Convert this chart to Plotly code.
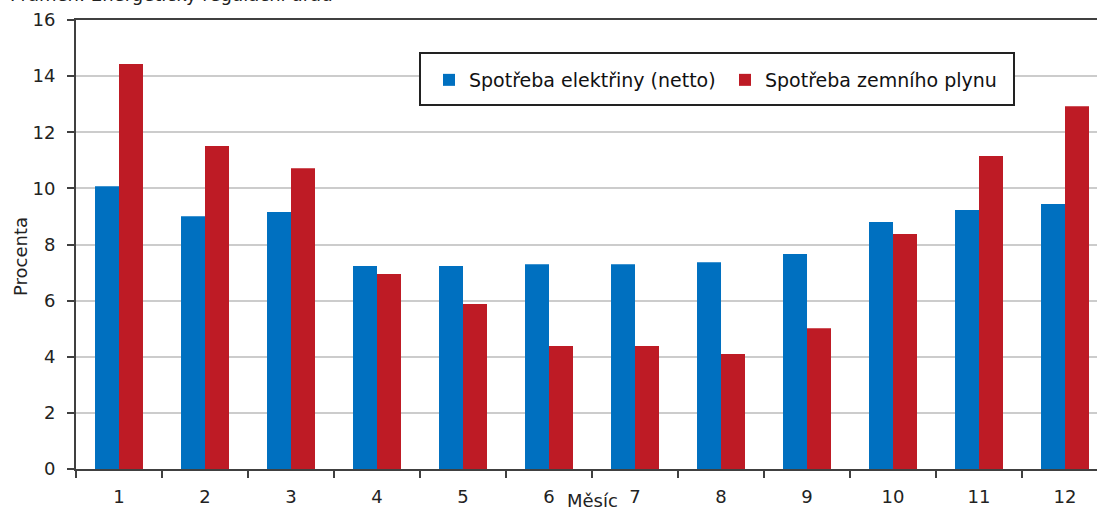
import plotly.graph_objects as go

months = ["1", "2", "3", "4", "5", "6", "7", "8", "9", "10", "11", "12"]
electricity = [10.08, 9.01, 9.16, 7.23, 7.23, 7.30, 7.30, 7.37, 7.66, 8.80, 9.23, 9.44]
gas = [14.43, 11.51, 10.72, 6.95, 5.88, 4.38, 4.38, 4.10, 5.02, 8.37, 11.15, 12.93]
y_ticks = [0, 2, 4, 6, 8, 10, 12, 14, 16]

FONT = "DejaVu Sans"
FS = 18
TXT = "#222222"
FIG_W, FIG_H = 1097, 507
L, T, W, H = 76, 20, 1021, 449


def px_x(x):
    return (x - L) / W


def px_y(y):
    return 1 - (y - T) / H


fig = go.Figure()
fig.add_trace(go.Bar(x=months, y=electricity, name="Spotřeba elektřiny (netto)",
                     marker=dict(color="#0070C0", line=dict(width=0))))
fig.add_trace(go.Bar(x=months, y=gas, name="Spotřeba zemního plynu",
                     marker=dict(color="#BE1B25", line=dict(width=0))))

fig.update_layout(
    width=FIG_W, height=FIG_H,
    margin=dict(l=L, r=FIG_W - L - W, t=T, b=FIG_H - T - H),
    paper_bgcolor="white", plot_bgcolor="white",
    barmode="group", bargap=0.442, bargroupgap=0,
    font=dict(family=FONT, size=FS, color=TXT),
    legend=dict(orientation="h", x=px_x(429), y=px_y(80), xanchor="left", yanchor="middle",
                bgcolor="rgba(0,0,0,0)", borderwidth=0,
                entrywidth=251, entrywidthmode="pixels",
                font=dict(family=FONT, size=19, color="#111111"),
                traceorder="normal"),
    showlegend=True,
)
fig.update_xaxes(type="category", range=[-0.5, 11.372], tickson="boundaries",
                 ticks="outside", ticklen=7, tickwidth=2, tickcolor="#404040",
                 showline=True, linecolor="#404040", linewidth=2, mirror=True,
                 showgrid=False, automargin=False, ticklabelstandoff=10,
                 tickfont=dict(family=FONT, size=FS, color=TXT))
fig.update_yaxes(range=[0, 16], tickvals=y_ticks, ticks="outside", ticklen=7, tickwidth=2,
                 tickcolor="#404040", showline=True, linecolor="#404040", linewidth=2,
                 showgrid=True, gridcolor="#cccccc", gridwidth=1.5, zeroline=False,
                 automargin=False, ticklabelstandoff=8,
                 tickfont=dict(family=FONT, size=FS, color=TXT))

# legend frame
fig.add_shape(type="rect", xref="paper", yref="paper",
              x0=px_x(420), x1=px_x(1014), y0=px_y(105), y1=px_y(53),
              line=dict(color="#222222", width=2), fillcolor="white", layer="above")

fig.add_annotation(text="Procenta", xref="paper", yref="paper", x=px_x(20), y=px_y(257),
                   xanchor="center", yanchor="middle", textangle=-90, showarrow=False,
                   font=dict(family=FONT, size=FS, color=TXT))
fig.add_annotation(text="Měsíc", xref="paper", yref="paper", x=px_x(592), y=px_y(500),
                   xanchor="center", yanchor="middle", showarrow=False,
                   font=dict(family=FONT, size=FS, color=TXT))
fig.add_annotation(text="Pramen: Energetický regulační úřad", xref="paper", yref="paper",
                   x=px_x(335), y=px_y(-5.5), xanchor="right", yanchor="middle", showarrow=False,
                   font=dict(family=FONT, size=FS, color=TXT))

fig.write_html("out.html", config={"displayModeBar": False},
               post_script="document.body.style.margin='0';")
